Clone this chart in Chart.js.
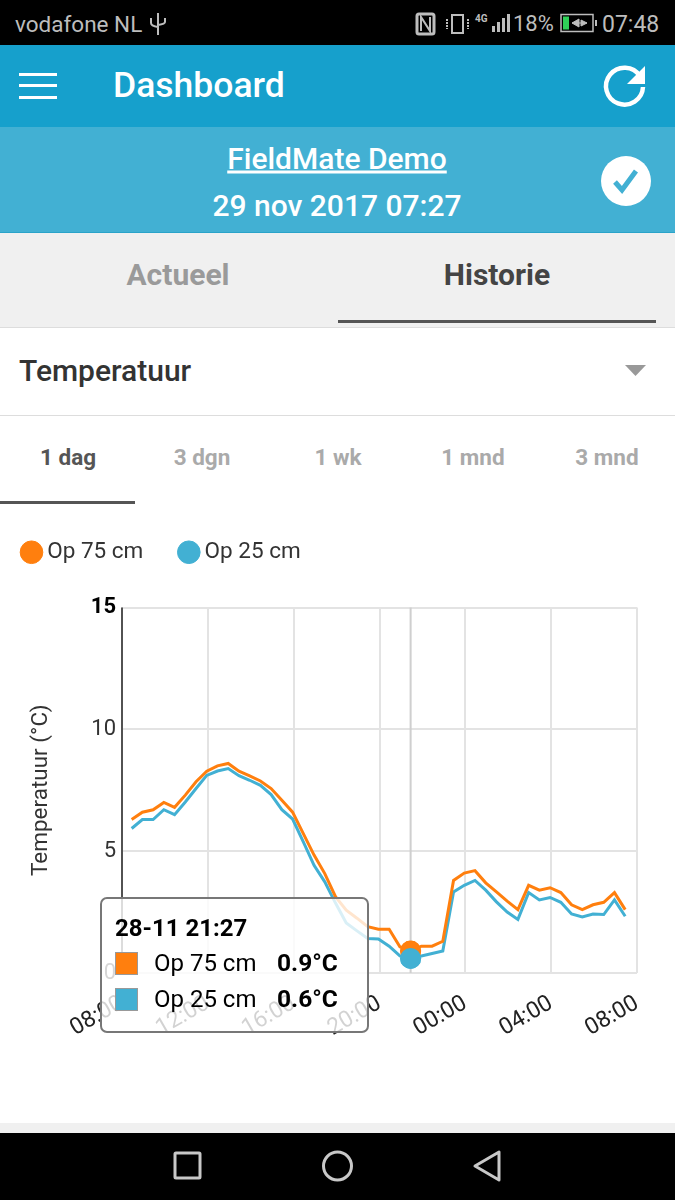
<!DOCTYPE html>
<html><head><meta charset="utf-8">
<script src="https://cdn.jsdelivr.net/npm/chart.js@4"></script>
<style>
html,body{margin:0;padding:0;background:#fff;width:675px;height:1200px;overflow:hidden;font-family:Roboto,sans-serif}
.a{position:absolute;white-space:nowrap}
.c{transform:translate(-50%,-50%)}
.v{transform:translateY(-50%)}
#chart{position:absolute;left:0;top:514px;width:675px;height:536px}
#tt{position:absolute;box-sizing:border-box;left:100px;top:897px;width:269px;height:136px;border:2px solid #777;border-radius:7px;background:rgba(255,255,255,.8);color:#000;font-size:24px}
#tt .t{position:absolute;left:13px;top:15px;font-weight:700;line-height:28px}
#tt .r{position:absolute;left:13px;height:28px;line-height:28px}
#tt .s{position:absolute;left:0;top:3px;width:23px;height:23px;box-sizing:border-box;border:1.5px solid #999}
#tt .l{position:absolute;left:39px;top:0;white-space:nowrap}
#tt .n{position:absolute;left:162px;top:0;font-weight:700;white-space:nowrap;font-size:24.5px}
</style></head><body>
<div class="a" style="left:0;top:0;width:675px;height:45px;background:#000"></div>
<div class="a v" style="left:15px;top:24px;color:#bdbdbd;font-size:22.500px">vodafone NL</div>
<svg class="a" style="left:148px;top:12px" width="20" height="24" viewBox="0 0 20 24" fill="none" stroke="#bdbdbd" stroke-width="2"><path d="M10 1V23M3 6V11Q3 14 10 15M17 6V10Q17 12 10 13"/></svg>
<svg class="a" style="left:415px;top:12px" width="185" height="24" viewBox="0 0 185 24" fill="none" stroke="#bdbdbd" stroke-width="2">
<rect x="2" y="2" width="17" height="20" rx="2" stroke-width="3"/><path d="M6 19V5L15 19V5" stroke-width="2"/>
<rect x="37" y="3" width="11" height="18"/><path d="M32 7V17M53 7V17" stroke-dasharray="2 1"/>
<rect x="77" y="14" width="3" height="6" fill="#bdbdbd" stroke="none"/><rect x="82" y="10" width="3" height="10" fill="#bdbdbd" stroke="none"/><rect x="87" y="6" width="3" height="14" fill="#bdbdbd" stroke="none"/><rect x="92" y="2" width="3" height="18" fill="#bdbdbd" stroke="none"/>
</svg>
<div class="a" style="left:475px;top:13px;color:#bdbdbd;font-size:10px;font-weight:700">4G</div>
<div class="a v" style="left:513px;top:23px;color:#bdbdbd;font-size:22px">18%</div>
<svg class="a" style="left:560px;top:13px" width="38" height="20" viewBox="0 0 38 20"><rect x="1" y="1.5" width="32" height="17" fill="none" stroke="#bdbdbd" stroke-width="1.5"/><rect x="3" y="3.5" width="6" height="13" fill="#2fd158"/><rect x="35" y="7" width="2" height="6" fill="#bdbdbd"/><path d="M12 10H27M12 10L19 6V14ZM27 10L21 7V13Z" fill="#bdbdbd" stroke="#bdbdbd"/></svg>
<div class="a v" style="left:602px;top:24px;color:#bdbdbd;font-size:23px">07:48</div>

<div class="a" style="left:0;top:45px;width:675px;height:82px;background:#16a0cc"></div>
<div class="a" style="left:19px;top:73px;width:38px;height:3px;background:#fff"></div>
<div class="a" style="left:19px;top:84px;width:38px;height:3px;background:#fff"></div>
<div class="a" style="left:19px;top:96px;width:38px;height:3px;background:#fff"></div>
<div class="a v" style="left:113px;top:85px;color:#fff;font-size:35.500px;font-weight:500">Dashboard</div>
<svg class="a" style="left:600px;top:60px" width="50" height="50" viewBox="0 0 50 50" fill="none"><path d="M40 16A18.5 18.5 0 1 0 43 27" stroke="#fff" stroke-width="4.5"/><path d="M45 6V24H27Z" fill="#fff"/></svg>

<div class="a" style="left:0;top:127px;width:675px;height:105px;background:#42b0d3;border-bottom:1px solid #2aa3c9"></div>
<div class="a c" style="left:337px;top:158px;color:#fff;font-size:30px;font-weight:500;text-decoration:underline">FieldMate Demo</div>
<div class="a c" style="left:337px;top:205px;color:#fff;font-size:30px;font-weight:500">29 nov 2017 07:27</div>
<svg class="a" style="left:600px;top:156px" width="52" height="52" viewBox="0 0 52 52"><circle cx="26" cy="25" r="25" fill="#fff"/><path d="M15 26L22 34L36 15" fill="none" stroke="#42b0d3" stroke-width="5"/></svg>

<div class="a" style="left:0;top:233px;width:675px;height:94px;background:#f0f0f0;border-bottom:1px solid #ddd"></div>
<div class="a c" style="left:178px;top:274px;color:#9a9a9a;font-size:30px;font-weight:700">Actueel</div>
<div class="a c" style="left:497px;top:274px;color:#444;font-size:30px;font-weight:700">Historie</div>
<div class="a" style="left:338px;top:320px;width:318px;height:3px;background:#555"></div>
<div class="a v" style="left:19px;top:370px;color:#333;font-size:30px;font-weight:500">Temperatuur</div>
<svg class="a" style="left:625px;top:365px" width="21" height="11"><path d="M0 0H21L10.5 11Z" fill="#999"/></svg>
<div class="a" style="left:0;top:415px;width:675px;height:1px;background:#ddd"></div>
<div class="a c" style="left:68px;top:457px;color:#555;font-size:22.500px;font-weight:700">1 dag</div>
<div class="a c" style="left:202px;top:457px;color:#aaa;font-size:22.500px;font-weight:700">3 dgn</div>
<div class="a c" style="left:338px;top:457px;color:#aaa;font-size:22.500px;font-weight:700">1 wk</div>
<div class="a c" style="left:473px;top:457px;color:#aaa;font-size:22.500px;font-weight:700">1 mnd</div>
<div class="a c" style="left:607px;top:457px;color:#aaa;font-size:22.500px;font-weight:700">3 mnd</div>
<div class="a" style="left:0;top:501px;width:135px;height:3px;background:#555"></div>

<canvas id="chart" width="675" height="536"></canvas>
<div id="tt"></div>

<div class="a" style="left:0;top:1123px;width:675px;height:10px;background:#f0f0f0"></div>
<div class="a" style="left:0;top:1133px;width:675px;height:67px;background:#000"></div>
<svg class="a" style="left:160px;top:1140px" width="350" height="52" viewBox="0 0 350 52" fill="none" stroke="#c8c8c8" stroke-width="3"><rect x="15" y="13" width="25" height="25" rx="1"/><circle cx="177.500" cy="26" r="14"/><path d="M339 12V40L315 26Z" stroke-linejoin="round"/></svg>

<script>
const times=["08:27","08:57","09:27","09:57","10:27","10:57","11:27","11:57","12:27","12:57","13:27","13:57","14:27","14:57","15:27","15:57","16:27","16:57","17:27","17:57","18:27","18:57","19:27","19:57","20:27","20:57","21:27","21:57","22:27","22:57","23:27","23:57","00:27","00:57","01:27","01:57","02:27","02:57","03:27","03:57","04:27","04:57","05:27","05:57","06:27","06:57","07:27"];
const op75=[6.3,6.6,6.7,7.0,6.8,7.3,7.85,8.28,8.5,8.6,8.28,8.09,7.88,7.57,7.09,6.6,5.72,4.84,4.08,3.13,2.58,2.25,1.9,1.8,1.8,1.08,0.9,1.1,1.1,1.3,3.8,4.1,4.2,3.7,3.33,2.95,2.6,3.6,3.4,3.5,3.3,2.8,2.6,2.8,2.9,3.3,2.6];
const op25=[5.93,6.3,6.3,6.7,6.5,7.02,7.57,8.11,8.29,8.39,8.1,7.91,7.7,7.32,6.7,6.32,5.38,4.42,3.74,2.87,2.05,1.73,1.42,1.4,1.1,0.7,0.6,0.7,0.8,0.9,3.33,3.6,3.8,3.4,2.92,2.5,2.2,3.3,3.0,3.1,2.9,2.42,2.3,2.42,2.4,3.0,2.33];
const xTicks=["08:00","12:00","16:00","20:00","00:00","04:00","08:00"];
const yTicks=[0,5,10,15];
const hoverIndex=26;
const hoverTitle="28-11 21:27";
const names=["Op 75 cm","Op 25 cm"];
const colors=["#ff7f0e","#42b0d3"];

function hoursSinceStart(t){const p=t.split(":");const h=+p[0]+(+p[1])/60;return h>=8?h-8:h+16;}
const xs=times.map(t=>hoursSinceStart(t));
const toPts=v=>v.map((y,i)=>({x:xs[i],y}));

function external(ctx){
  const m=ctx.tooltip, el=document.getElementById('tt');
  if(!m.dataPoints)return;
  let h='<div class="t">'+hoverTitle+'</div>';
  m.dataPoints.forEach((d,i)=>{
    h+='<div class="r" style="top:'+(50+i*36)+'px"><div class="s" style="background:'+colors[d.datasetIndex]+'"></div><div class="l">'+d.dataset.label+'</div><div class="n">'+d.parsed.y.toFixed(1)+'°C</div></div>';
  });
  el.innerHTML=h;
}
const cursor={id:'cursor',afterDatasetsDraw(c){
  const a=c.getActiveElements(); if(!a.length)return;
  const x=a[0].element.x,g=c.ctx,ca=c.chartArea;
  g.save();g.strokeStyle='#cfcfcf';g.lineWidth=2;g.beginPath();g.moveTo(x,ca.top);g.lineTo(x,ca.bottom);g.stroke();g.restore();
  a.forEach(e=>e.element.draw(g,ca));
}};
const leftAxis={id:'leftAxis',afterDatasetsDraw(c){
  const g=c.ctx,ca=c.chartArea;
  g.save();g.strokeStyle='#222';g.lineWidth=1.5;g.beginPath();g.moveTo(ca.left,ca.top);g.lineTo(ca.left,ca.bottom);g.stroke();g.restore();
}};
const legendBox={id:'legendBox',
  beforeLayout(c){
    const l=c.legend; if(!l||l._wrapped)return; l._wrapped=true;
    const f=l.fit; l.fit=function(){f.call(this);this.height+=12;};
  },
  afterLayout(c){c.legend.left=-14;c.legend.top-=22;}
};
const chart=new Chart(document.getElementById('chart'),{
  type:'line',
  data:{datasets:[
    {label:names[0],data:toPts(op75),borderColor:colors[0],backgroundColor:colors[0],pointHoverBackgroundColor:colors[0]},
    {label:names[1],data:toPts(op25),borderColor:colors[1],backgroundColor:colors[1],pointHoverBackgroundColor:colors[1]}
  ]},
  plugins:[cursor,leftAxis,legendBox],
  options:{
    responsive:false,animation:false,
    devicePixelRatio:1,
    interaction:{mode:'index',intersect:false},
    elements:{line:{borderWidth:3,tension:0},point:{radius:0,hoverRadius:10.5,hoverBorderWidth:0}},
    layout:{padding:{left:0,top:8,right:38,bottom:0}},
    plugins:{
      legend:{position:'top',align:'start',onClick:null,
        labels:{usePointStyle:true,pointStyle:'circle',boxWidth:9,boxHeight:16,padding:41,color:'#333',font:{family:'Roboto',size:22.5}}},
      tooltip:{enabled:false,external}
    },
    scales:{
      x:{type:'linear',min:0,max:24,
        afterBuildTicks(s){s.ticks=xTicks.map((t,i)=>({value:i*4}));},
        afterFit(s){s.height=77;},
        grid:{color:'#e3e3e3',lineWidth:2,drawTicks:false},
        border:{display:false},
        ticks:{autoSkip:false,minRotation:30,maxRotation:30,padding:17,color:'#222',font:{family:'Roboto',size:23},callback:(v,i)=>xTicks[i]}
      },
      y:{min:0,max:15,
        afterBuildTicks(s){s.ticks=yTicks.map(v=>({value:v}));},
        afterFit(s){s.width=122;},
        grid:{color:'#e3e3e3',lineWidth:2,drawTicks:false},
        border:{display:false},
        title:{display:true,text:'Temperatuur (°C)',color:'#333',font:{family:'Roboto',size:22.5},padding:{top:28,bottom:0}},
        ticks:{padding:6,color:c=>c.tick&&c.tick.value===15?'#000':'#333',font:c=>({family:'Roboto',size:22,weight:c.tick&&c.tick.value===15?'bold':'normal'}),callback:v=>String(v)}
      }
    }
  }
});
const act=[{datasetIndex:0,index:hoverIndex},{datasetIndex:1,index:hoverIndex}];
chart.setActiveElements(act);
chart.tooltip.setActiveElements(act,{x:0,y:0});
chart.update();
</script>
</body></html>
